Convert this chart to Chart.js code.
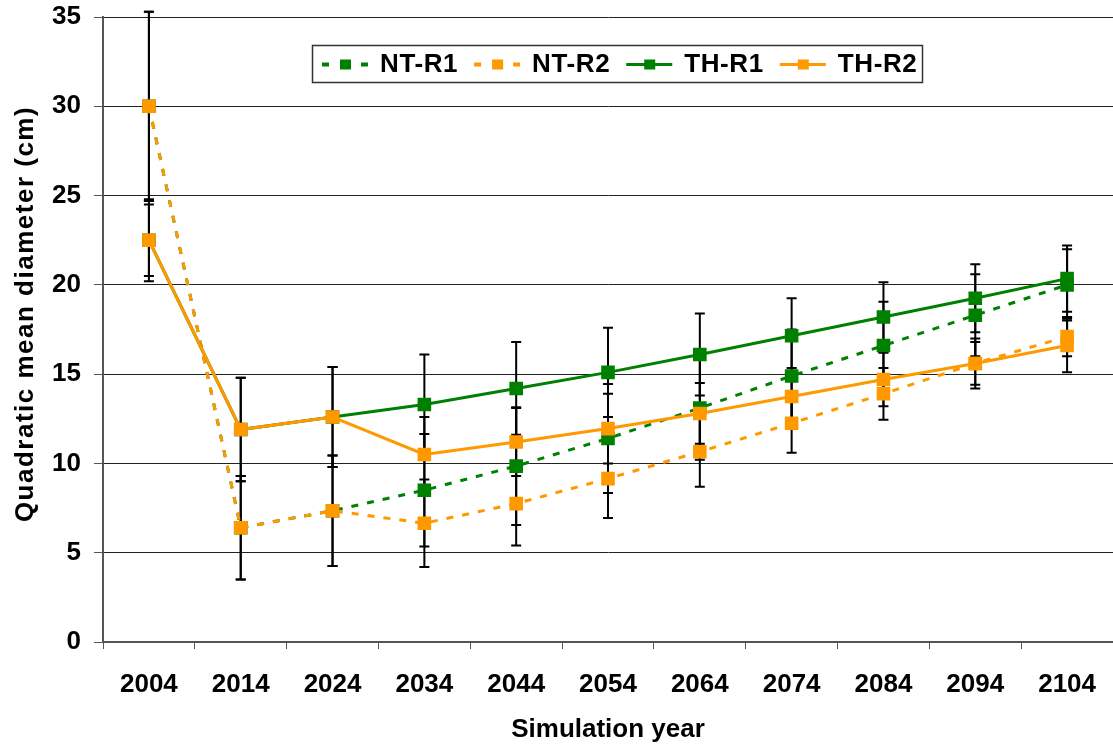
<!DOCTYPE html>
<html>
<head>
<meta charset="utf-8">
<script src="https://cdn.jsdelivr.net/npm/chart.js@4/dist/chart.umd.min.js"></script>
<style>
  body { margin: 0; background: #fff; }
  #wrap { width: 1113px; height: 747px; }
</style>
</head>
<body>
<div id="wrap"><canvas id="qmdChart" width="1113" height="747"></canvas></div>
<script>
const years = ['2004', '2014', '2024', '2034', '2044', '2054', '2064', '2074', '2084', '2094', '2104'];
const yTicks = [0, 5, 10, 15, 20, 25, 30, 35];

const ntR1 = [30, 6.4, 7.35, 8.5, 9.85, 11.4, 13.1, 14.9, 16.6, 18.3, 20.0];
const ntR2 = [30, 6.4, 7.35, 6.65, 7.75, 9.15, 10.65, 12.25, 13.9, 15.6, 17.1];
const thR1 = [22.5, 11.9, 12.6, 13.3, 14.2, 15.1, 16.1, 17.15, 18.2, 19.25, 20.35];
const thR2 = [22.5, 11.9, 12.6, 10.5, 11.2, 11.95, 12.8, 13.75, 14.7, 15.6, 16.6];

// +/- half widths of the error bars
const ntR1Err = [5.3, 2.9, 3.1, 3.15, 3.3, 3.05, 2.9, 2.6, 2.45, 2.3, 2.0];
const ntR2Err = [5.3, 2.9, 3.1, 2.45, 2.35, 2.2, 1.95, 1.65, 1.45, 1.2, 1.1];
const thR1Err = [2.0, 2.9, 2.8, 2.8, 2.6, 2.5, 2.3, 2.1, 1.95, 1.9, 1.85];
const thR2Err = [2.3, 2.9, 2.8, 2.1, 1.9, 1.95, 1.7, 1.6, 1.5, 1.4, 1.5];

const legendOrder = ['NT-R1', 'NT-R2', 'TH-R1', 'TH-R2'];

const GREEN = '#008000';
const ORANGE = '#ff9900';
const FONT = "'Liberation Sans', Arial, sans-serif";

const errorBars = {
    id: 'errorBars',
    beforeDatasetsDraw(chart) {
        const ctx = chart.ctx;
        const y = chart.scales.y;
        ctx.save();
        ctx.strokeStyle = '#000';
        ctx.lineWidth = 2;
        chart.data.datasets.forEach((ds, i) => {
            const meta = chart.getDatasetMeta(i);
            meta.data.forEach((pt, j) => {
                const v = ds.data[j], e = ds.errors[j];
                const top = y.getPixelForValue(v + e);
                const bot = y.getPixelForValue(v - e);
                ctx.beginPath();
                ctx.moveTo(pt.x, top); ctx.lineTo(pt.x, bot);
                ctx.moveTo(pt.x - 5, top); ctx.lineTo(pt.x + 5, top);
                ctx.moveTo(pt.x - 5, bot); ctx.lineTo(pt.x + 5, bot);
                ctx.stroke();
            });
        });
        ctx.restore();
    }
};

// boxed legend inside the plot, plus the y axis title
const extras = {
    id: 'extras',
    afterDraw(chart) {
        const ctx = chart.ctx;
        const area = chart.chartArea;
        ctx.save();

        // y title
        ctx.font = 'bold 26px ' + FONT;
        ctx.fillStyle = '#000';
        ctx.textAlign = 'center';
        ctx.textBaseline = 'middle';
        ctx.letterSpacing = '1.5px';
        ctx.translate(26, 314);
        ctx.rotate(-Math.PI / 2);
        ctx.fillText('Quadratic mean diameter (cm)', 0, 0);
        ctx.restore();

        ctx.save();
        const bx = area.left + 209, by = area.top + 28, bh = 37;
        ctx.font = 'bold 26px ' + FONT;
        ctx.letterSpacing = '0.6px';
        const items = legendOrder.map(name => chart.data.datasets.find(d => d.label === name));
        let x = bx + 10;
        const cy = by + bh / 2 + 1;
        items.forEach(ds => {
            ctx.fillStyle = ds.borderColor;
            if (ds.borderDash) {
                ctx.fillRect(x, cy - 2, 7, 4);
                ctx.fillRect(x + 39, cy - 2, 7, 4);
            } else {
                ctx.fillRect(x, cy - 1.5, 46, 3);
            }
            ctx.fillRect(x + 18, cy - 5, 11, 10);
            x += 46 + 12;
            ctx.fillStyle = '#000';
            ctx.textAlign = 'left';
            ctx.textBaseline = 'middle';
            ctx.fillText(ds.label, x, cy);
            x += ctx.measureText(ds.label).width + 16;
        });
        const bw = x - 16 + 5 - bx;
        ctx.strokeStyle = '#333';
        ctx.lineWidth = 1.5;
        ctx.strokeRect(Math.round(bx) + 0.5, Math.round(by) + 0.5, Math.round(bw), bh);
        ctx.restore();
    }
};

// datasets listed top-most first
new Chart(document.getElementById('qmdChart'), {
    type: 'line',
    data: {
        labels: years,
        datasets: [
            { label: 'TH-R2', data: thR2, errors: thR2Err, borderColor: ORANGE, backgroundColor: ORANGE,
              pointStyle: 'rect', pointRadius: 7.5, borderWidth: 3 },
            { label: 'TH-R1', data: thR1, errors: thR1Err, borderColor: GREEN, backgroundColor: GREEN,
              pointStyle: 'rect', pointRadius: 7.5, borderWidth: 3 },
            { label: 'NT-R2', data: ntR2, errors: ntR2Err, borderColor: ORANGE, backgroundColor: ORANGE,
              borderDash: [7, 9], pointStyle: 'rect', pointRadius: 7.5, borderWidth: 3 },
            { label: 'NT-R1', data: ntR1, errors: ntR1Err, borderColor: GREEN, backgroundColor: GREEN,
              borderDash: [7, 9], pointStyle: 'rect', pointRadius: 7.5, borderWidth: 3 }
        ]
    },
    options: {
        responsive: false,
        animation: false,
        layout: { autoPadding: false, padding: { top: 17, right: 0, left: 0, bottom: 0 } },
        scales: {
            x: {
                offset: true,
                grid: { offset: true, drawOnChartArea: false, tickLength: 7, color: '#555', lineWidth: 1 },
                border: { color: '#555', width: 2 },
                ticks: { color: '#000', padding: 20, font: { family: FONT, size: 26, weight: 'bold' } },
                title: { display: true, text: 'Simulation year', color: '#000', padding: { top: 0, bottom: 2 },
                         font: { family: FONT, size: 26, weight: 'bold' } },
                afterFit(s) { s.height = 105; s.paddingLeft = 0; s.paddingRight = 0; }
            },
            y: {
                min: 0, max: 35,
                afterBuildTicks(s) { s.ticks = yTicks.map(v => ({ value: v })); },
                grid: { color: '#222', lineWidth: 1, tickLength: 9, tickColor: '#555' },
                border: { color: '#555', width: 2 },
                ticks: { color: '#000', padding: 13, font: { family: FONT, size: 26, weight: 'bold' } },
                afterFit(s) { s.width = 103; s.paddingTop = 0; s.paddingBottom = 0; }
            }
        },
        plugins: {
            tooltip: { enabled: false },
            legend: { display: false }
        }
    },
    plugins: [errorBars, extras]
});
</script>
</body>
</html>
